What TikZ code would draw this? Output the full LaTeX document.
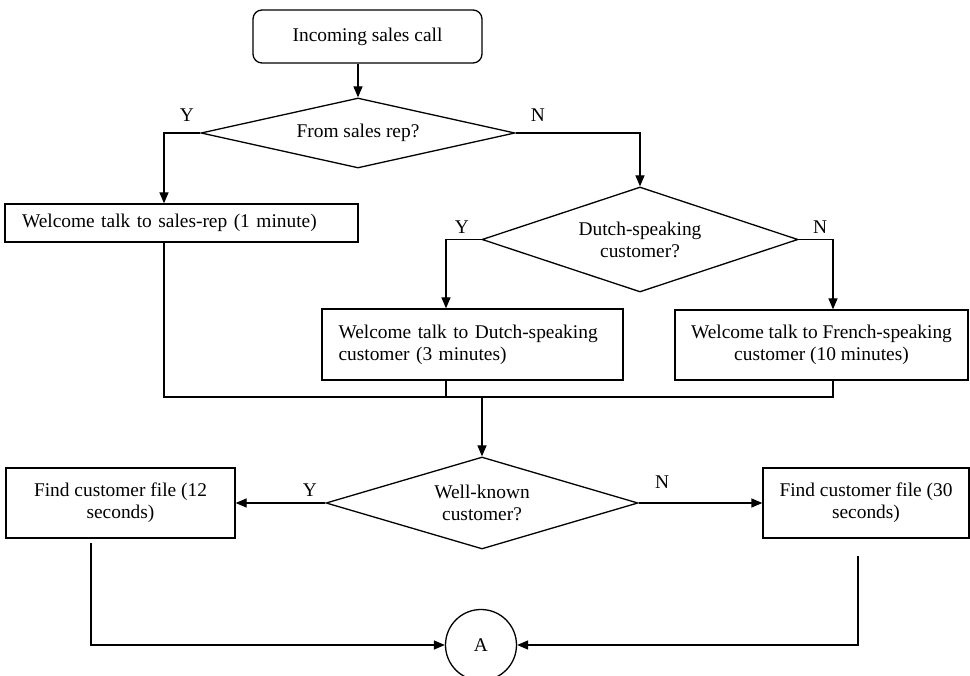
\documentclass[tikz,border=0pt]{standalone}
\usepackage{fontspec}
\setmainfont{Liberation Serif}
\usetikzlibrary{shapes.geometric,arrows.meta}

\tikzset{
  x=1pt, y=-1pt,
  every node/.style={font=\fontsize{19.4}{22}\selectfont},
  conn/.style={line width=1.3pt},
  arr/.style={conn, -{Triangle[length=11pt,width=9pt]}},
  procbox/.style={draw, line width=1.3pt, rectangle, inner sep=0pt},
  startbox/.style={procbox, rounded corners=9pt},
  decision/.style={draw, line width=1.3pt, diamond, inner sep=0pt, align=center},
  connector/.style={draw, line width=1.3pt, circle, inner sep=0pt, minimum size=71pt},
  branch/.style={inner sep=0pt}
}

\begin{document}
\begin{tikzpicture}
\useasboundingbox (0,0) rectangle (970,676);

% process steps
\node[startbox, minimum width=229pt, minimum height=53pt] (start) at (367.5,36.5) {Incoming sales call};
\node[decision, minimum width=314pt, minimum height=70pt, shape aspect=4.5] (d1) at (358,133) {From sales rep?};
\node[procbox, minimum width=353pt, minimum height=38pt, text width=319pt, align=left] (rep) at (181.5,223) {Welcome talk to sales-rep (1 minute)};
\node[decision, minimum width=316pt, minimum height=105pt, shape aspect=3] (d2) at (640,239.5) {Dutch-speaking\\customer?};
\node[procbox, minimum width=301pt, minimum height=71pt, text width=268pt, align=left] (dutch) at (472.5,344.5) {Welcome talk to Dutch-speaking\\customer (3 minutes)};
\node[procbox, minimum width=293pt, minimum height=70pt, align=center] (french) at (821.5,345) {Welcome talk to French-speaking\\customer (10 minutes)};
\node[decision, minimum width=312pt, minimum height=92pt, shape aspect=3.4] (d3) at (482,503) {Well-known\\customer?};
\node[procbox, minimum width=229pt, minimum height=70pt, align=center] (f12) at (120.5,503) {Find customer file (12\\seconds)};
\node[procbox, minimum width=206pt, minimum height=70pt, align=center] (f30) at (866,503) {Find customer file (30\\seconds)};
\node[connector] (A) at (481,645) {A};

% branch labels
\node[branch] (y1) at (187,115) {Y};
\node[branch] (n1) at (538,115) {N};
\node[branch] (y2) at (462,227) {Y};
\node[branch] (n2) at (820,227) {N};
\node[branch] (y3) at (310,490) {Y};
\node[branch] (n3) at (662,482) {N};

% routing columns and rows
\coordinate (ycol) at (164,0);
\coordinate (dcol) at (446,0);
\coordinate (fcol) at (833,0);
\coordinate (mrg) at (0,397);
\coordinate (lstart) at (91,543);
\coordinate (rstart) at (858,556);

% connectors
\draw[arr] (d1.north |- start.south) -- (d1.north);
\draw[arr] (d1.west) -| (rep.north -| ycol);
\draw[arr] (d1.east) -| (d2.north);
\draw[arr] (d2.west) -| (dutch.north -| dcol);
\draw[arr] (d2.east) -| (french.north -| fcol);

\draw[conn] (rep.south -| ycol) -- (ycol |- mrg) -- (fcol |- mrg) -- (french.south -| fcol);
\draw[conn] (dutch.south -| dcol) -- (dcol |- mrg);
\draw[arr] (d3.north |- mrg) -- (d3.north);

\draw[arr] (d3.west) -- (f12.east);
\draw[arr] (d3.east) -- (f30.west);

\draw[arr] (lstart) |- (A.west);
\draw[arr] (rstart) |- (A.east);
\end{tikzpicture}
\end{document}
